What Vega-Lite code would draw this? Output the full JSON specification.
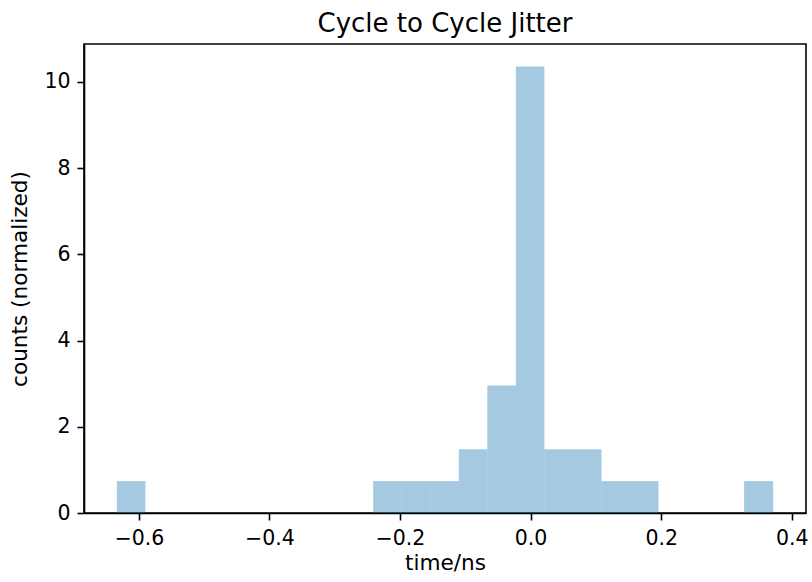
{
  "$schema": "https://vega.github.io/schema/vega-lite/v6.json",
  "autosize": {"type": "none"},
  "width": 722,
  "height": 469,
  "padding": {"left": 84, "top": 44, "right": 6, "bottom": 69},
  "background": "white",
  "title": {"text": "Cycle to Cycle Jitter", "font": "DejaVu Sans", "fontSize": 26, "fontWeight": "normal", "color": "black", "offset": 7},
  "config": {
    "view": {"stroke": "black", "strokeWidth": 1.6},
    "axis": {"labelFont": "DejaVu Sans", "titleFont": "DejaVu Sans", "labelFontSize": 20.5, "titleFontSize": 21.6, "titleFontWeight": "normal", "labelColor": "black", "titleColor": "black", "tickColor": "black", "domainColor": "black", "tickSize": 7, "tickWidth": 1.6, "domainWidth": 1.6, "grid": false}
  },
  "data": {"values": [
    {"start": -0.6337, "end": -0.5900, "density": 0.74},
    {"start": -0.2411, "end": -0.1974, "density": 0.74},
    {"start": -0.1974, "end": -0.1537, "density": 0.74},
    {"start": -0.1537, "end": -0.1100, "density": 0.74},
    {"start": -0.1100, "end": -0.0663, "density": 1.48},
    {"start": -0.0663, "end": -0.0226, "density": 2.96},
    {"start": -0.0226, "end": 0.0211, "density": 10.36},
    {"start": 0.0211, "end": 0.0648, "density": 1.48},
    {"start": 0.0648, "end": 0.1085, "density": 1.48},
    {"start": 0.1085, "end": 0.1522, "density": 0.74},
    {"start": 0.1522, "end": 0.1959, "density": 0.74},
    {"start": 0.3270, "end": 0.3715, "density": 0.74}
  ]},
  "mark": {"type": "bar", "fill": "#1f77b4", "fillOpacity": 0.4, "strokeWidth": 0},
  "encoding": {
    "x": {"field": "start", "type": "quantitative", "scale": {"domain": [-0.684, 0.4218], "nice": false, "zero": false},
      "axis": {"values": [-0.6, -0.4, -0.2, 0.0, 0.2, 0.4], "format": ".1f", "labelExpr": "replace(datum.label, '-', '\u2212')", "title": "time/ns", "labelPadding": 8, "titlePadding": 4}},
    "x2": {"field": "end"},
    "y": {"field": "density", "type": "quantitative", "scale": {"domain": [0, 10.88], "nice": false},
      "axis": {"values": [0, 2, 4, 6, 8, 10], "format": "d", "title": "counts (normalized)", "labelPadding": 7, "titlePadding": 12}},
    "y2": {"datum": 0}
  }
}
